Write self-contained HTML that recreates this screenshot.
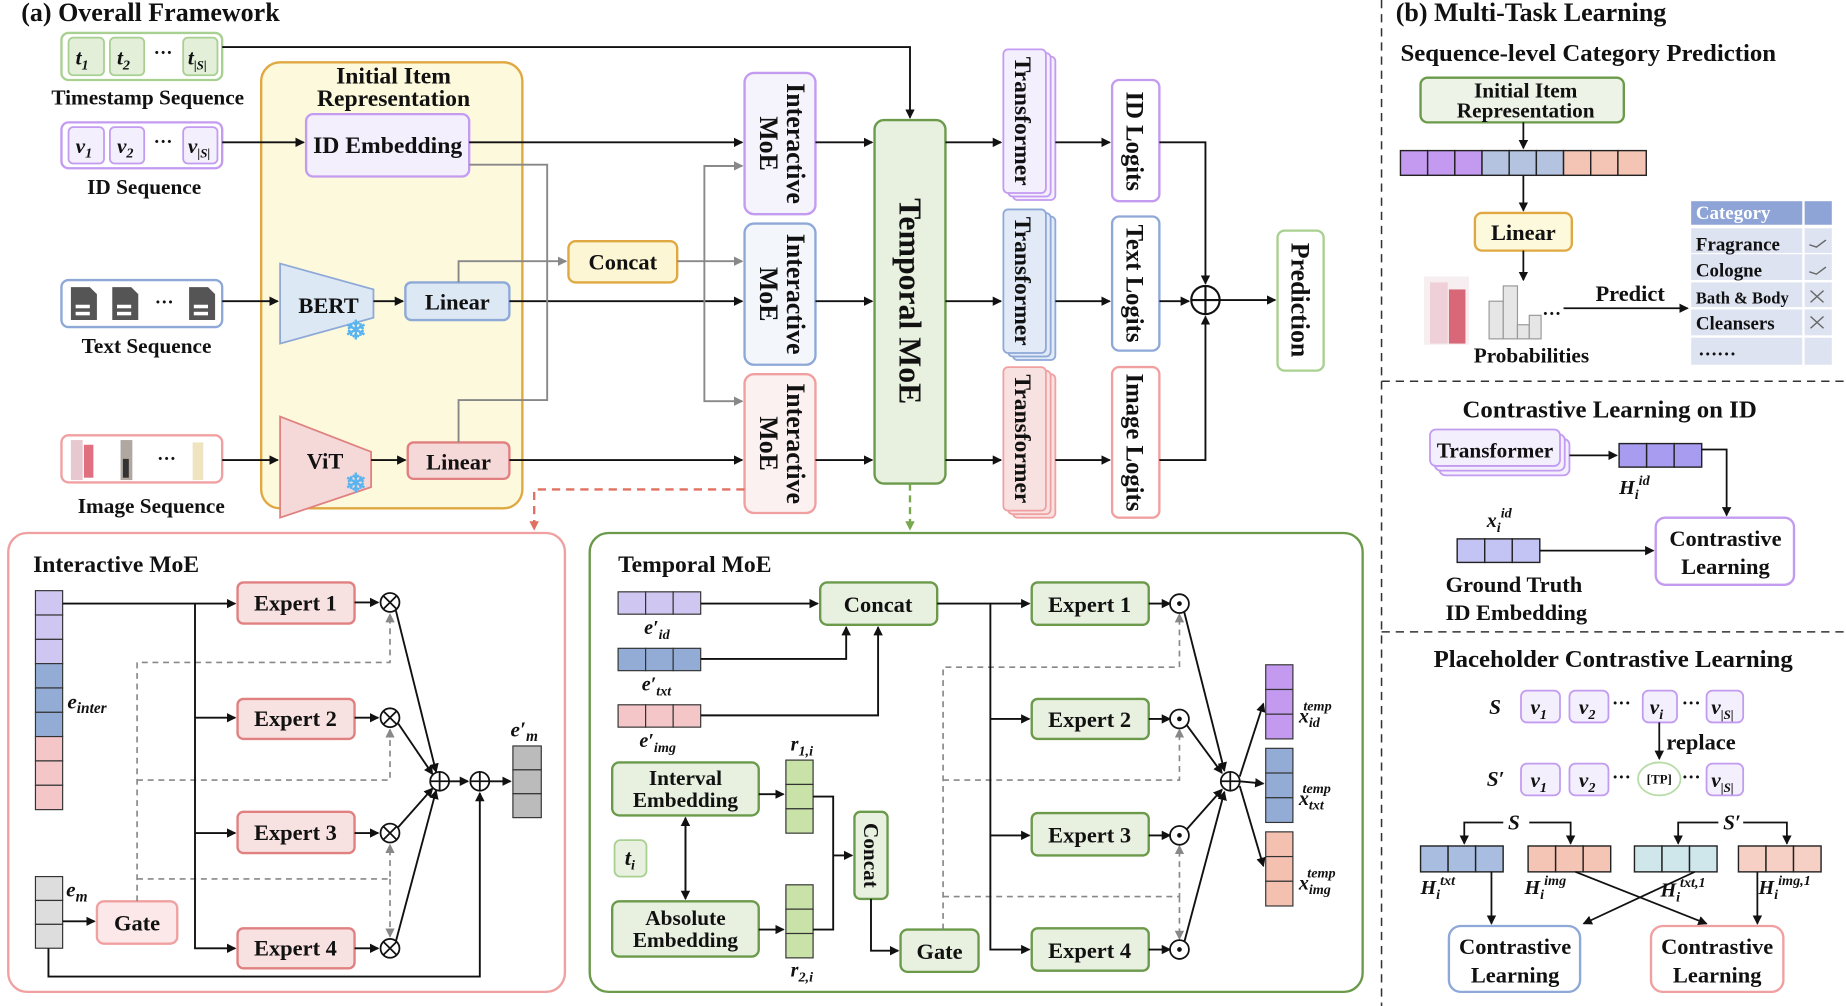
<!DOCTYPE html>
<html><head><meta charset="utf-8"><style>
html,body{margin:0;padding:0;background:#fff}
svg{display:block}
text{font-family:"Liberation Serif",serif;font-weight:bold;fill:#111}
</style></head><body>
<svg width="1846" height="1006" viewBox="0 0 1562 855" preserveAspectRatio="none" xmlns="http://www.w3.org/2000/svg">
<defs>
<marker id="a" markerWidth="8" markerHeight="8" refX="7" refY="4" orient="auto" markerUnits="userSpaceOnUse"><path d="M0,0L8,4L0,8z" fill="#111"/></marker>
<marker id="g" markerWidth="8" markerHeight="8" refX="7" refY="4" orient="auto" markerUnits="userSpaceOnUse"><path d="M0,0L8,4L0,8z" fill="#888"/></marker>
<marker id="r" markerWidth="8" markerHeight="8" refX="7" refY="4" orient="auto" markerUnits="userSpaceOnUse"><path d="M0,0L8,4L0,8z" fill="#e07060"/></marker>
<marker id="gr" markerWidth="8" markerHeight="8" refX="7" refY="4" orient="auto" markerUnits="userSpaceOnUse"><path d="M0,0L8,4L0,8z" fill="#7aa850"/></marker>
</defs>

<text x="18" y="18" font-size="22">(a) Overall Framework</text>

<rect x="52" y="28" width="136" height="40" rx="6" fill="#fff" stroke="#a8d090" stroke-width="2"/>
<rect x="58" y="32" width="30" height="32" rx="4" fill="#e3efd9" stroke="#a8d090" stroke-width="1.5"/>
<rect x="93" y="32" width="29" height="32" rx="4" fill="#e3efd9" stroke="#a8d090" stroke-width="1.5"/>
<rect x="155" y="32" width="29" height="32" rx="4" fill="#e3efd9" stroke="#a8d090" stroke-width="1.5"/>
<text x="64" y="55" font-size="18" font-style="italic" font-weight="normal">t<tspan font-size="12" dy="4">1</tspan></text>
<text x="99" y="55" font-size="18" font-style="italic" font-weight="normal">t<tspan font-size="12" dy="4">2</tspan></text>
<text x="130" y="50" font-size="16">···</text>
<text x="159" y="55" font-size="18" font-style="italic" font-weight="normal">t<tspan font-size="11" dy="4">|S|</tspan></text>
<text x="125" y="89" font-size="18" text-anchor="middle">Timestamp Sequence</text>

<rect x="52" y="104" width="136" height="39" rx="6" fill="#fff" stroke="#c39bf0" stroke-width="2"/>
<rect x="58" y="108" width="30" height="31" rx="4" fill="#f3effd" stroke="#c39bf0" stroke-width="1.5"/>
<rect x="93" y="108" width="29" height="31" rx="4" fill="#f3effd" stroke="#c39bf0" stroke-width="1.5"/>
<rect x="155" y="108" width="29" height="31" rx="4" fill="#f3effd" stroke="#c39bf0" stroke-width="1.5"/>
<text x="64" y="130" font-size="18" font-style="italic" font-weight="normal">v<tspan font-size="12" dy="4">1</tspan></text>
<text x="99" y="130" font-size="18" font-style="italic" font-weight="normal">v<tspan font-size="12" dy="4">2</tspan></text>
<text x="130" y="126" font-size="16">···</text>
<text x="159" y="130" font-size="18" font-style="italic" font-weight="normal">v<tspan font-size="11" dy="4">|S|</tspan></text>
<text x="122" y="165" font-size="18" text-anchor="middle">ID Sequence</text>

<rect x="52" y="238" width="136" height="40" rx="6" fill="#fff" stroke="#8ea8d8" stroke-width="2"/>
<g fill="#555"><path d="M60,244h16l6,6v22h-22z"/><path d="M95,244h16l6,6v22h-22z"/><path d="M160,244h16l6,6v22h-22z"/></g>
<g fill="#fff"><rect x="64" y="259" width="12" height="3"/><rect x="64" y="265" width="12" height="3"/><rect x="99" y="259" width="12" height="3"/><rect x="99" y="265" width="12" height="3"/><rect x="164" y="259" width="12" height="3"/><rect x="164" y="265" width="12" height="3"/></g>
<text x="131" y="262" font-size="16">···</text>
<text x="124" y="300" font-size="18" text-anchor="middle">Text Sequence</text>

<rect x="52" y="370" width="136" height="40" rx="6" fill="#fff" stroke="#f0a0a0" stroke-width="2"/>
<rect x="60" y="374" width="10" height="34" fill="#e8c8d0"/><rect x="71" y="378" width="8" height="28" fill="#e07080"/>
<rect x="102" y="374" width="10" height="34" fill="#b0a8a0"/><rect x="104" y="390" width="5" height="16" fill="#333"/>
<rect x="163" y="376" width="9" height="32" fill="#efe4c0"/>
<text x="133" y="395" font-size="16">···</text>
<text x="128" y="436" font-size="18" text-anchor="middle">Image Sequence</text>

<rect x="221" y="53" width="221" height="379" rx="16" fill="#fdf9dc" stroke="#e0a840" stroke-width="2"/>
<text x="333" y="71" font-size="20" text-anchor="middle">Initial Item</text>
<text x="333" y="90" font-size="20" text-anchor="middle">Representation</text>
<rect x="259" y="97" width="138" height="53" rx="6" fill="#f3effd" stroke="#c39bf0" stroke-width="2"/>
<text x="328" y="130" font-size="20" text-anchor="middle">ID Embedding</text>
<path d="M237,224L316,246L316,270L237,292z" fill="#dde8f5" stroke="#8ea8d8" stroke-width="1.5"/>
<text x="278" y="266" font-size="19" text-anchor="middle">BERT</text>
<text x="301" y="288" font-size="22" style="fill:#5ab4f0" text-anchor="middle">❄</text>
<rect x="343" y="240" width="88" height="32" rx="5" fill="#dde8f5" stroke="#8ea8d8" stroke-width="2"/>
<text x="387" y="263" font-size="19" text-anchor="middle">Linear</text>
<path d="M237,354L314,384L314,414L237,440z" fill="#f5d8d8" stroke="#e08080" stroke-width="1.5"/>
<text x="275" y="398" font-size="19" text-anchor="middle">ViT</text>
<text x="301" y="418" font-size="22" style="fill:#5ab4f0" text-anchor="middle">❄</text>
<rect x="345" y="376" width="86" height="31" rx="5" fill="#f5d8d8" stroke="#e08080" stroke-width="2"/>
<text x="388" y="399" font-size="19" text-anchor="middle">Linear</text>

<rect x="481" y="205" width="92" height="35" rx="6" fill="#fdf6d4" stroke="#e0a840" stroke-width="2"/>
<text x="527" y="229" font-size="19" text-anchor="middle">Concat</text>

<rect x="630" y="62" width="60" height="120" rx="8" fill="#f5f3fc" stroke="#c39bf0" stroke-width="2"/>
<rect x="630" y="190" width="60" height="120" rx="8" fill="#f3f6fb" stroke="#8ea8d8" stroke-width="2"/>
<rect x="630" y="318" width="60" height="118" rx="8" fill="#fcf1f1" stroke="#f0a0a0" stroke-width="2"/>
<g font-size="22">
<text transform="translate(666,122) rotate(90)" text-anchor="middle">Interactive</text>
<text transform="translate(643,122) rotate(90)" text-anchor="middle">MoE</text>
<text transform="translate(666,250) rotate(90)" text-anchor="middle">Interactive</text>
<text transform="translate(643,250) rotate(90)" text-anchor="middle">MoE</text>
<text transform="translate(666,377) rotate(90)" text-anchor="middle">Interactive</text>
<text transform="translate(643,377) rotate(90)" text-anchor="middle">MoE</text>
</g>
<rect x="740" y="102" width="60" height="309" rx="8" fill="#e8f0e0" stroke="#6a9a4a" stroke-width="2"/>
<text transform="translate(761,256) rotate(90)" font-size="27" text-anchor="middle">Temporal MoE</text>

<g stroke-width="1.5">
<rect x="857" y="48" width="36" height="122" rx="4" fill="#f3effd" stroke="#c39bf0"/>
<rect x="853" y="45" width="36" height="122" rx="4" fill="#f3effd" stroke="#c39bf0"/>
<rect x="849" y="42" width="36" height="122" rx="4" fill="#f3effd" stroke="#c39bf0"/>
<rect x="857" y="184" width="36" height="122" rx="4" fill="#e1eaf6" stroke="#8ea8d8"/>
<rect x="853" y="181" width="36" height="122" rx="4" fill="#e1eaf6" stroke="#8ea8d8"/>
<rect x="849" y="178" width="36" height="122" rx="4" fill="#e1eaf6" stroke="#8ea8d8"/>
<rect x="857" y="318" width="36" height="122" rx="4" fill="#f8e1e1" stroke="#f0a0a0"/>
<rect x="853" y="315" width="36" height="122" rx="4" fill="#f8e1e1" stroke="#f0a0a0"/>
<rect x="849" y="312" width="36" height="122" rx="4" fill="#f8e1e1" stroke="#f0a0a0"/>
</g>
<g font-size="20">
<text transform="translate(859,103) rotate(90)" text-anchor="middle">Transformer</text>
<text transform="translate(859,239) rotate(90)" text-anchor="middle">Transformer</text>
<text transform="translate(859,373) rotate(90)" text-anchor="middle">Transformer</text>
</g>
<rect x="941" y="68" width="40" height="103" rx="6" fill="#fff" stroke="#c39bf0" stroke-width="2"/>
<rect x="941" y="184" width="40" height="114" rx="6" fill="#fff" stroke="#8ea8d8" stroke-width="2"/>
<rect x="941" y="312" width="40" height="128" rx="6" fill="#fff" stroke="#f0a0a0" stroke-width="2"/>
<g font-size="21">
<text transform="translate(953,120) rotate(90)" text-anchor="middle">ID Logits</text>
<text transform="translate(953,241) rotate(90)" text-anchor="middle">Text Logits</text>
<text transform="translate(953,376) rotate(90)" text-anchor="middle">Image Logits</text>
</g>
<circle cx="1020" cy="255" r="12" fill="#fff" stroke="#111" stroke-width="1.8"/>
<path d="M1008,255h24M1020,243v24" stroke="#111" stroke-width="1.8"/>
<rect x="1081" y="196" width="39" height="119" rx="6" fill="#fff" stroke="#a8d090" stroke-width="2"/>
<text transform="translate(1093,255) rotate(90)" font-size="22" text-anchor="middle">Prediction</text>

<g stroke="#111" stroke-width="1.6" fill="none" marker-end="url(#a)">
<path d="M188,40H770V100"/>
<path d="M188,121H257"/><path d="M188,256H235"/><path d="M188,391H235"/>
<path d="M316,256H341"/><path d="M314,391H343"/>
<path d="M397,121H628"/><path d="M431,256H628"/><path d="M431,391H628"/>
<path d="M690,121H738"/><path d="M690,256H738"/><path d="M690,391H738"/>
<path d="M800,121H847"/><path d="M800,256H847"/><path d="M800,391H847"/>
<path d="M893,121H939"/><path d="M893,256H939"/><path d="M893,391H939"/>
<path d="M981,121H1020V241"/><path d="M981,256H1006"/><path d="M981,391H1020V269"/>
<path d="M1032,255H1079"/>
</g>
<g stroke="#888" stroke-width="1.6" fill="none">
<path d="M397,140H463V340H388V376"/>
<path d="M388,240V222H479" marker-end="url(#g)"/>
<path d="M573,222H628" marker-end="url(#g)"/>
<path d="M628,141H596V341H628" marker-end="url(#g)"/>
<path d="M596,141H628" marker-end="url(#g)"/>
</g>
<path d="M630,416H452V450" stroke="#e07060" stroke-width="2" stroke-dasharray="7,5" fill="none" marker-end="url(#r)"/>
<path d="M770,411V450" stroke="#7aa850" stroke-width="2" stroke-dasharray="6,4" fill="none" marker-end="url(#gr)"/>

<rect x="7" y="453" width="471" height="390" rx="16" fill="#fff" stroke="#f0a0a0" stroke-width="2"/>
<text x="28" y="486" font-size="20">Interactive MoE</text>
<g stroke="#333" stroke-width="1">
<rect x="30" y="502" width="23" height="20.7" fill="#d0c6f2"/><rect x="30" y="522.7" width="23" height="20.7" fill="#d0c6f2"/><rect x="30" y="543.4" width="23" height="20.7" fill="#d0c6f2"/>
<rect x="30" y="564" width="23" height="20.7" fill="#93acd6"/><rect x="30" y="584.7" width="23" height="20.7" fill="#93acd6"/><rect x="30" y="605.4" width="23" height="20.7" fill="#93acd6"/>
<rect x="30" y="626" width="23" height="20.7" fill="#f4c6c8"/><rect x="30" y="646.7" width="23" height="20.7" fill="#f4c6c8"/><rect x="30" y="667.4" width="23" height="20.7" fill="#f4c6c8"/>
<rect x="30" y="745" width="23" height="20.3" fill="#ddd"/><rect x="30" y="765.3" width="23" height="20.3" fill="#ddd"/><rect x="30" y="785.6" width="23" height="20.3" fill="#ddd"/>
<rect x="434" y="634" width="24" height="20.3" fill="#bbb"/><rect x="434" y="654.3" width="24" height="20.3" fill="#bbb"/><rect x="434" y="674.6" width="24" height="20.3" fill="#bbb"/>
</g>
<text x="57" y="602" font-size="18" font-style="italic">e<tspan font-size="13" dy="4">inter</tspan></text>
<text x="56" y="762" font-size="18" font-style="italic">e<tspan font-size="13" dy="4">m</tspan></text>
<text x="432" y="626" font-size="18" font-style="italic">e′<tspan font-size="13" dy="4">m</tspan></text>
<rect x="82" y="766" width="68" height="36" rx="6" fill="#fce8e8" stroke="#f0a0a0" stroke-width="2"/>
<text x="116" y="791" font-size="19" text-anchor="middle">Gate</text>
<g font-size="19" text-anchor="middle">
<rect x="201" y="495" width="99" height="35" rx="5" fill="#f8e1e1" stroke="#e08080" stroke-width="2"/><text x="250" y="519">Expert 1</text>
<rect x="201" y="594" width="99" height="34" rx="5" fill="#f8e1e1" stroke="#e08080" stroke-width="2"/><text x="250" y="617">Expert 2</text>
<rect x="201" y="690" width="99" height="35" rx="5" fill="#f8e1e1" stroke="#e08080" stroke-width="2"/><text x="250" y="714">Expert 3</text>
<rect x="201" y="789" width="99" height="34" rx="5" fill="#f8e1e1" stroke="#e08080" stroke-width="2"/><text x="250" y="812">Expert 4</text>
</g>
<g stroke="#888" stroke-width="1.4" stroke-dasharray="5,4" fill="none">
<path d="M116,766V563H330V522" marker-end="url(#g)"/>
<path d="M116,663H330V620" marker-end="url(#g)"/>
<path d="M116,747H330V718" marker-end="url(#g)"/>
<path d="M330,747V796" marker-end="url(#g)"/>
</g>
<g stroke="#111" stroke-width="1.6" fill="none" marker-end="url(#a)">
<path d="M53,513H199"/>
<path d="M165,513V806H199"/><path d="M165,610H199"/><path d="M165,708H199"/>
<path d="M300,512H320"/><path d="M300,610H320"/><path d="M300,708H320"/><path d="M300,806H320"/>
<path d="M335,519L369,656"/><path d="M337,615L366,658"/><path d="M337,703L366,670"/><path d="M335,800L369,672"/>
<path d="M380,664H396"/><path d="M414,664H432"/>
<path d="M53,783H80"/>
<path d="M41,806V830H406V674"/>
</g>
<g stroke="#111" stroke-width="1.5" fill="#fff">
<circle cx="330" cy="512" r="8"/><circle cx="330" cy="610" r="8"/><circle cx="330" cy="708" r="8"/><circle cx="330" cy="806" r="8"/>
<circle cx="372" cy="664" r="8"/><circle cx="406" cy="664" r="8"/>
</g>
<g stroke="#111" stroke-width="1.5">
<path d="M324,506l12,12M336,506l-12,12M324,604l12,12M336,604l-12,12M324,702l12,12M336,702l-12,12M324,800l12,12M336,800l-12,12"/>
<path d="M364,664h16M372,656v16M398,664h16M406,656v16"/>
</g>

<rect x="499" y="453" width="654" height="390" rx="16" fill="#fff" stroke="#6a9a4a" stroke-width="2"/>
<text x="523" y="486" font-size="20">Temporal MoE</text>
<g stroke="#333" stroke-width="1">
<rect x="523" y="503" width="23.3" height="19" fill="#d0c6f2"/><rect x="546.3" y="503" width="23.3" height="19" fill="#d0c6f2"/><rect x="569.6" y="503" width="23.3" height="19" fill="#d0c6f2"/>
<rect x="523" y="551" width="23.3" height="19" fill="#93acd6"/><rect x="546.3" y="551" width="23.3" height="19" fill="#93acd6"/><rect x="569.6" y="551" width="23.3" height="19" fill="#93acd6"/>
<rect x="523" y="599" width="23.3" height="19" fill="#f4c6c8"/><rect x="546.3" y="599" width="23.3" height="19" fill="#f4c6c8"/><rect x="569.6" y="599" width="23.3" height="19" fill="#f4c6c8"/>
<rect x="665" y="646" width="23" height="20.7" fill="#c8e2a8"/><rect x="665" y="666.7" width="23" height="20.7" fill="#c8e2a8"/><rect x="665" y="687.4" width="23" height="20.7" fill="#c8e2a8"/>
<rect x="665" y="752" width="23" height="20.7" fill="#c8e2a8"/><rect x="665" y="772.7" width="23" height="20.7" fill="#c8e2a8"/><rect x="665" y="793.4" width="23" height="20.7" fill="#c8e2a8"/>
<rect x="1071" y="565" width="23" height="21" fill="#c49af0"/><rect x="1071" y="586" width="23" height="21" fill="#c49af0"/><rect x="1071" y="607" width="23" height="21" fill="#c49af0"/>
<rect x="1071" y="636" width="23" height="21" fill="#93acd6"/><rect x="1071" y="657" width="23" height="21" fill="#93acd6"/><rect x="1071" y="678" width="23" height="21" fill="#93acd6"/>
<rect x="1071" y="707" width="23" height="21" fill="#f4c0b0"/><rect x="1071" y="728" width="23" height="21" fill="#f4c0b0"/><rect x="1071" y="749" width="23" height="21" fill="#f4c0b0"/>
</g>
<g font-size="17" font-style="italic">
<text x="545" y="539">e′<tspan font-size="12" dy="4">id</tspan></text>
<text x="543" y="587">e′<tspan font-size="12" dy="4">txt</tspan></text>
<text x="541" y="635">e′<tspan font-size="12" dy="4">img</tspan></text>
<text x="669" y="638">r<tspan font-size="12" dy="4">1,i</tspan></text>
<text x="669" y="830">r<tspan font-size="12" dy="4">2,i</tspan></text>
<text x="1099" y="614">x<tspan font-size="12" dy="4">id</tspan><tspan font-size="12" dx="-14" dy="-14">temp</tspan></text>
<text x="1099" y="684">x<tspan font-size="12" dy="4">txt</tspan><tspan font-size="12" dx="-18" dy="-14">temp</tspan></text>
<text x="1099" y="756">x<tspan font-size="12" dy="4">img</tspan><tspan font-size="12" dx="-20" dy="-14">temp</tspan></text>
</g>
<g font-size="19" text-anchor="middle">
<rect x="694" y="495" width="99" height="36" rx="6" fill="#e8f0e0" stroke="#6a9a4a" stroke-width="2"/><text x="743" y="520">Concat</text>
<rect x="518" y="648" width="124" height="45" rx="6" fill="#e8f0e0" stroke="#6a9a4a" stroke-width="2"/><text x="580" y="667" font-size="18">Interval</text><text x="580" y="686" font-size="18">Embedding</text>
<rect x="518" y="766" width="124" height="47" rx="6" fill="#e8f0e0" stroke="#6a9a4a" stroke-width="2"/><text x="580" y="786" font-size="18">Absolute</text><text x="580" y="805" font-size="18">Embedding</text>
<rect x="520" y="714" width="27" height="31" rx="5" fill="#e8f0e0" stroke="#a8d090" stroke-width="1.5"/><text x="533" y="735" font-style="italic" font-weight="normal">t<tspan font-size="12" dy="4">i</tspan></text>
<rect x="723" y="690" width="28" height="74" rx="5" fill="#e8f0e0" stroke="#6a9a4a" stroke-width="2"/><text transform="translate(731,727) rotate(90)" font-size="18">Concat</text>
<rect x="762" y="790" width="66" height="36" rx="6" fill="#e8f0e0" stroke="#6a9a4a" stroke-width="2"/><text x="795" y="815">Gate</text>
<rect x="873" y="495" width="99" height="36" rx="5" fill="#e8f0e0" stroke="#6a9a4a" stroke-width="2"/><text x="922" y="520">Expert 1</text>
<rect x="873" y="594" width="99" height="34" rx="5" fill="#e8f0e0" stroke="#6a9a4a" stroke-width="2"/><text x="922" y="618">Expert 2</text>
<rect x="873" y="691" width="99" height="36" rx="5" fill="#e8f0e0" stroke="#6a9a4a" stroke-width="2"/><text x="922" y="716">Expert 3</text>
<rect x="873" y="789" width="99" height="36" rx="5" fill="#e8f0e0" stroke="#6a9a4a" stroke-width="2"/><text x="922" y="814">Expert 4</text>
</g>
<g stroke="#888" stroke-width="1.4" stroke-dasharray="5,4" fill="none">
<path d="M798,790V567H998V522" marker-end="url(#g)"/>
<path d="M798,663H998V620" marker-end="url(#g)"/>
<path d="M798,762H998V719" marker-end="url(#g)"/>
<path d="M998,762V798" marker-end="url(#g)"/>
</g>
<g stroke="#111" stroke-width="1.6" fill="none" marker-end="url(#a)">
<path d="M593,513H692"/><path d="M593,560H716V533"/><path d="M593,608H743V533"/>
<path d="M642,675H663"/><path d="M642,790H663"/>
<path d="M580,700V764"/><path d="M580,760V695"/>
<path d="M688,677H705V790H688" marker-end="none"/><path d="M705,727H721"/>
<path d="M737,764V808H760"/>
<path d="M793,513H871"/><path d="M838,513V807H871"/><path d="M838,611H871"/><path d="M838,710H871"/>
<path d="M972,513H990"/><path d="M972,611H990"/><path d="M972,710H990"/><path d="M972,807H990"/>
<path d="M1002,520L1036,655"/><path d="M1004,616L1034,657"/><path d="M1004,705L1034,671"/><path d="M1002,801L1036,673"/>
<path d="M1049,660L1069,598"/><path d="M1049,664L1069,666"/><path d="M1049,668L1069,736"/>
</g>
<g stroke="#111" stroke-width="1.5" fill="#fff">
<circle cx="998" cy="513" r="8"/><circle cx="998" cy="611" r="8"/><circle cx="998" cy="710" r="8"/><circle cx="998" cy="807" r="8"/>
<circle cx="1041" cy="664" r="8"/>
</g>
<g fill="#111"><circle cx="998" cy="513" r="2"/><circle cx="998" cy="611" r="2"/><circle cx="998" cy="710" r="2"/><circle cx="998" cy="807" r="2"/></g>
<path d="M1033,664h16M1041,656v16" stroke="#111" stroke-width="1.5"/>

<g stroke="#333" stroke-width="1.3" stroke-dasharray="7,5">
<path d="M1169,0V855"/><path d="M1169,324H1562"/><path d="M1169,537H1562"/>
</g>
<text x="1181" y="18" font-size="22">(b) Multi-Task Learning</text>
<text x="1185" y="52" font-size="21">Sequence-level Category Prediction</text>
<rect x="1202" y="66" width="172" height="38" rx="6" fill="#eef3e8" stroke="#6a9a4a" stroke-width="2"/>
<text x="1291" y="83" font-size="18" text-anchor="middle">Initial Item</text>
<text x="1291" y="100" font-size="18" text-anchor="middle">Representation</text>
<g stroke="#222" stroke-width="1.2">
<rect x="1185" y="128" width="23" height="21" fill="#c49af0"/><rect x="1208" y="128" width="23" height="21" fill="#c49af0"/><rect x="1231" y="128" width="23" height="21" fill="#c49af0"/>
<rect x="1254" y="128" width="23" height="21" fill="#b3c3e0"/><rect x="1277" y="128" width="23" height="21" fill="#b3c3e0"/><rect x="1300" y="128" width="23" height="21" fill="#b3c3e0"/>
<rect x="1323" y="128" width="23" height="21" fill="#f4c4b4"/><rect x="1346" y="128" width="23" height="21" fill="#f4c4b4"/><rect x="1369" y="128" width="24" height="21" fill="#f4c4b4"/>
</g>
<rect x="1248" y="181" width="82" height="32" rx="6" fill="#fdf9dc" stroke="#e0a840" stroke-width="2"/>
<text x="1289" y="204" font-size="19" text-anchor="middle">Linear</text>
<g stroke="#111" stroke-width="1.5" fill="none" marker-end="url(#a)">
<path d="M1289,104V126"/><path d="M1289,149V179"/><path d="M1289,213V238"/>
<path d="M1323,262H1428"/>
</g>
<rect x="1205" y="235" width="38" height="58" fill="#f6eef0"/>
<rect x="1210" y="240" width="15" height="52" fill="#f0d0d8"/><rect x="1226" y="246" width="14" height="46" fill="#d86878"/>
<g fill="#e6e6e6" stroke="#999" stroke-width="1"><rect x="1260" y="256" width="12" height="32"/><rect x="1272" y="243" width="12" height="45"/><rect x="1284" y="276" width="10" height="12"/><rect x="1294" y="268" width="10" height="20"/></g>
<text x="1305" y="272" font-size="16">···</text>
<text x="1247" y="308" font-size="18">Probabilities</text>
<text x="1350" y="256" font-size="19">Predict</text>
<rect x="1431" y="171" width="94" height="20" fill="#8ea4d6"/><rect x="1527" y="171" width="23" height="20" fill="#8ea4d6"/>
<g fill="#dde3f1"><rect x="1431" y="194" width="94" height="21"/><rect x="1527" y="194" width="23" height="21"/><rect x="1431" y="216" width="94" height="22"/><rect x="1527" y="216" width="23" height="22"/><rect x="1431" y="240" width="94" height="21"/><rect x="1527" y="240" width="23" height="21"/><rect x="1431" y="263" width="94" height="22"/><rect x="1527" y="263" width="23" height="22"/><rect x="1431" y="287" width="94" height="23"/><rect x="1527" y="287" width="23" height="23"/></g>
<text x="1435" y="186" font-size="16" style="fill:#fff">Category</text>
<g font-size="16" font-weight="normal"><text x="1435" y="213">Fragrance</text><text x="1435" y="235">Cologne</text><text x="1435" y="258" font-size="14">Bath &amp; Body</text><text x="1435" y="280">Cleansers</text><text x="1437" y="302">……</text></g>
<g stroke="#666" stroke-width="1.2" fill="none"><path d="M1531,208l6,2l8,-6M1531,231l6,2l8,-6M1532,247l11,10M1543,247l-11,10M1532,269l11,10M1543,269l-11,10"/></g>

<text x="1362" y="355" font-size="21" text-anchor="middle">Contrastive Learning on ID</text>
<rect x="1218" y="373" width="110" height="31" rx="5" fill="#f3effd" stroke="#c39bf0" stroke-width="1.5"/>
<rect x="1214" y="369" width="110" height="31" rx="5" fill="#f3effd" stroke="#c39bf0" stroke-width="1.5"/>
<rect x="1210" y="365" width="110" height="31" rx="5" fill="#f3effd" stroke="#c39bf0" stroke-width="1.5"/>
<text x="1265" y="389" font-size="18" text-anchor="middle">Transformer</text>
<g stroke="#222" stroke-width="1.2"><rect x="1370" y="377" width="23.3" height="20" fill="#a79cf0"/><rect x="1393.3" y="377" width="23.3" height="20" fill="#a79cf0"/><rect x="1416.6" y="377" width="23.3" height="20" fill="#a79cf0"/>
<rect x="1233" y="458" width="23.3" height="20" fill="#c4c4f4"/><rect x="1256.3" y="458" width="23.3" height="20" fill="#c4c4f4"/><rect x="1279.6" y="458" width="23.3" height="20" fill="#c4c4f4"/></g>
<g font-style="italic" font-size="17"><text x="1370" y="420">H<tspan font-size="12" dy="4">i</tspan><tspan font-size="12" dy="-12">id</tspan></text>
<text x="1258" y="448">x<tspan font-size="12" dy="4">i</tspan><tspan font-size="12" dy="-12">id</tspan></text></g>
<rect x="1401" y="440" width="117" height="57" rx="8" fill="#fff" stroke="#c39bf0" stroke-width="2"/>
<text x="1460" y="464" font-size="19" text-anchor="middle">Contrastive</text><text x="1460" y="488" font-size="19" text-anchor="middle">Learning</text>
<text x="1281" y="503" font-size="19" text-anchor="middle">Ground Truth</text><text x="1283" y="527" font-size="19" text-anchor="middle">ID Embedding</text>
<g stroke="#111" stroke-width="1.5" fill="none" marker-end="url(#a)"><path d="M1328,387H1368"/><path d="M1440,382H1461V438"/><path d="M1303,468H1399"/></g>

<text x="1365" y="567" font-size="21" text-anchor="middle">Placeholder Contrastive Learning</text>
<g fill="#f3effd" stroke="#c39bf0" stroke-width="1.5">
<rect x="1287" y="587" width="33" height="27" rx="5"/><rect x="1328" y="587" width="33" height="27" rx="5"/><rect x="1390" y="587" width="29" height="27" rx="5"/><rect x="1444" y="587" width="31" height="27" rx="5"/>
<rect x="1287" y="649" width="33" height="27" rx="5"/><rect x="1328" y="649" width="33" height="27" rx="5"/><rect x="1444" y="649" width="31" height="27" rx="5"/>
</g>
<ellipse cx="1404" cy="662" rx="18" ry="14" fill="#fff" stroke="#b8dca8" stroke-width="1.5"/>
<text x="1404" y="666" font-size="11" text-anchor="middle">[TP]</text>
<g font-size="18" font-style="italic" font-weight="normal">
<text x="1260" y="607">S</text><text x="1258" y="668">S′</text>
<text x="1295" y="607">v<tspan font-size="12" dy="4">1</tspan></text><text x="1336" y="607">v<tspan font-size="12" dy="4">2</tspan></text><text x="1396" y="607">v<tspan font-size="12" dy="4">i</tspan></text><text x="1448" y="607">v<tspan font-size="11" dy="4">|S|</tspan></text>
<text x="1295" y="669">v<tspan font-size="12" dy="4">1</tspan></text><text x="1336" y="669">v<tspan font-size="12" dy="4">2</tspan></text><text x="1448" y="669">v<tspan font-size="11" dy="4">|S|</tspan></text>
<text x="1276" y="705">S</text><text x="1458" y="705">S′</text>
</g>
<g font-size="16"><text x="1364" y="603">···</text><text x="1423" y="603">···</text><text x="1364" y="666">···</text><text x="1423" y="666">···</text></g>
<text x="1410" y="637" font-size="19">replace</text>
<g stroke="#222" stroke-width="1.2">
<rect x="1202" y="719" width="23.3" height="22" fill="#a8bde0"/><rect x="1225.3" y="719" width="23.3" height="22" fill="#a8bde0"/><rect x="1248.6" y="719" width="23.3" height="22" fill="#a8bde0"/>
<rect x="1293" y="719" width="23.3" height="22" fill="#f4c4b4"/><rect x="1316.3" y="719" width="23.3" height="22" fill="#f4c4b4"/><rect x="1339.6" y="719" width="23.3" height="22" fill="#f4c4b4"/>
<rect x="1383" y="719" width="23.3" height="22" fill="#cfe6ea"/><rect x="1406.3" y="719" width="23.3" height="22" fill="#cfe6ea"/><rect x="1429.6" y="719" width="23.3" height="22" fill="#cfe6ea"/>
<rect x="1471" y="719" width="23.3" height="22" fill="#f6d0c4"/><rect x="1494.3" y="719" width="23.3" height="22" fill="#f6d0c4"/><rect x="1517.6" y="719" width="23.3" height="22" fill="#f6d0c4"/>
</g>
<g font-style="italic" font-size="17">
<text x="1202" y="760">H<tspan font-size="12" dy="4">i</tspan><tspan font-size="12" dy="-12">txt</tspan></text>
<text x="1290" y="760">H<tspan font-size="12" dy="4">i</tspan><tspan font-size="12" dy="-12">img</tspan></text>
<text x="1405" y="762">H<tspan font-size="12" dy="4">i</tspan><tspan font-size="12" dy="-12">txt,1</tspan></text>
<text x="1488" y="760">H<tspan font-size="12" dy="4">i</tspan><tspan font-size="12" dy="-12">img,1</tspan></text>
</g>
<rect x="1226" y="787" width="111" height="56" rx="10" fill="#fff" stroke="#8ea8d8" stroke-width="2"/>
<rect x="1397" y="787" width="112" height="56" rx="10" fill="#fff" stroke="#f0a0a0" stroke-width="2"/>
<g font-size="19" text-anchor="middle"><text x="1282" y="811">Contrastive</text><text x="1282" y="835">Learning</text><text x="1453" y="811">Contrastive</text><text x="1453" y="835">Learning</text></g>
<g stroke="#111" stroke-width="1.5" fill="none" marker-end="url(#a)">
<path d="M1404,614V645"/>
<path d="M1272,699H1239V717"/><path d="M1294,699H1329V717"/>
<path d="M1454,699H1420V717"/><path d="M1475,699H1512V717"/>
<path d="M1262,741V785"/><path d="M1333,741L1444,785"/><path d="M1434,741L1340,785"/><path d="M1487,741V785"/>
</g>
</svg>
</body></html>
